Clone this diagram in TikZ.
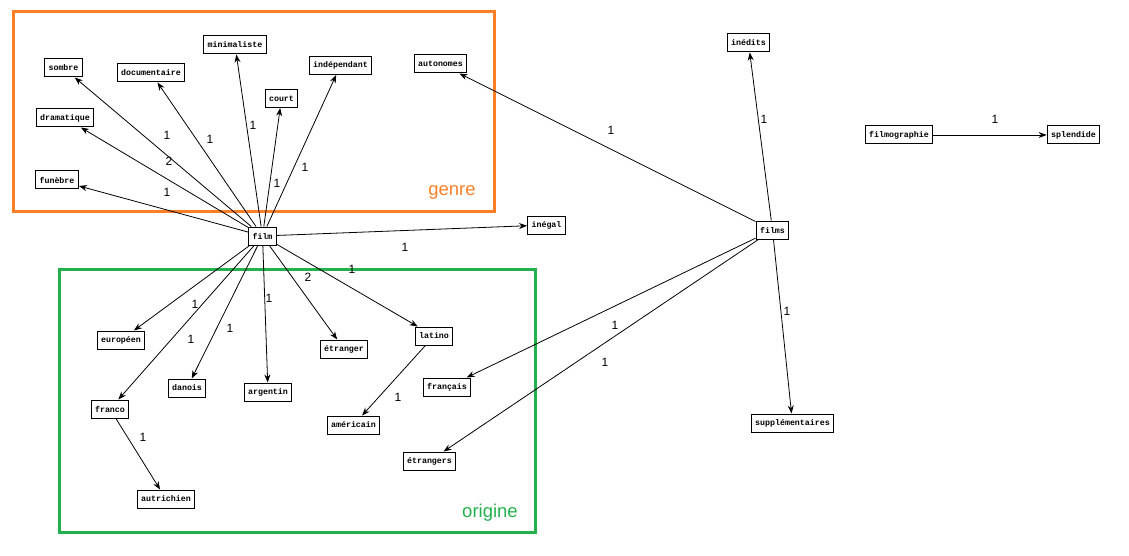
\documentclass[tikz,border=0pt]{standalone}
\usepackage{fontspec}
\setmainfont{Liberation Sans}
\newfontfamily\boxfont{Liberation Mono}
\usetikzlibrary{arrows.meta}
\definecolor{genreorange}{RGB}{255,127,39}
\definecolor{originegreen}{RGB}{34,177,76}
\begin{document}
\begin{tikzpicture}[x=1pt,y=-1pt,
  word/.style={draw=black, line width=1pt, fill=white,
    font=\boxfont\bfseries\fontsize{8.3}{9}\selectfont,
    inner xsep=4pt, inner ysep=0pt, minimum height=18pt},
  link/.style={line width=0.8pt, -{Stealth[length=8pt,width=6pt]}},
  num/.style={font=\fontsize{12}{14}\selectfont, inner sep=0pt},
  group/.style={line width=3pt},
  grouplabel/.style={font=\fontsize{18.5}{20}\selectfont, inner sep=0pt, anchor=base}]
\useasboundingbox (0,0) rectangle (1129,556);

% thematic groups
\draw[group, genreorange] (13,12) rectangle (494,211);
\node[grouplabel, text=genreorange] (genre) at (452,196) {genre};
\draw[group, originegreen] (59,269) rectangle (535,532);
\node[grouplabel, text=originegreen] (origine) at (490,517) {origine};

% words
\node[word] (film) at (262.5,236) {film};
\node[word] (sombre) at (63.5,68) {sombre};
\node[word] (documentaire) at (151,73) {documentaire};
\node[word] (minimaliste) at (235,45) {minimaliste};
\node[word] (court) at (281.5,98.5) {court};
\node[word] (independant) at (340.5,65.5) {indépendant};
\node[word] (dramatique) at (65,118) {dramatique};
\node[word] (funebre) at (57,180) {funèbre};
\node[word] (autonomes) at (440.5,64) {autonomes};
\node[word] (inegal) at (546.5,225) {inégal};
\node[word] (latino) at (434,336) {latino};
\node[word] (etranger) at (344,349) {étranger};
\node[word] (europeen) at (121,340) {européen};
\node[word] (danois) at (187,388) {danois};
\node[word] (argentin) at (268,392) {argentin};
\node[word] (franco) at (110,409) {franco};
\node[word] (autrichien) at (166,499) {autrichien};
\node[word] (americain) at (353.5,425) {américain};
\node[word] (francais) at (447,387) {français};
\node[word] (etrangers) at (429.5,461) {étrangers};
\node[word] (inedits) at (748.5,43) {inédits};
\node[word] (films) at (772.5,230) {films};
\node[word] (supplementaires) at (792.5,423) {supplémentaires};
\node[word] (filmographie) at (899,135) {filmographie};
\node[word] (splendide) at (1073.5,135) {splendide};

% links
\foreach \t in {sombre,documentaire,minimaliste,court,independant,dramatique,funebre,inegal,latino,etranger,argentin,danois,franco,europeen}
  \draw[link] (film) -- (\t);
\draw[link] (latino) -- (americain);
\draw[link] (franco) -- (autrichien);
\foreach \t in {autonomes,inedits,supplementaires,francais,etrangers}
  \draw[link] (films) -- (\t);
\draw[link] (filmographie) -- (splendide);

% link weights
\node[num] (w1) at (167,135) {1};
\node[num] (w2) at (169,161) {2};
\node[num] (w3) at (167,192) {1};
\node[num] (w4) at (210,139) {1};
\node[num] (w5) at (253,125) {1};
\node[num] (w6) at (277,183) {1};
\node[num] (w7) at (305,167) {1};
\node[num] (w8) at (405,247) {1};
\node[num] (w9) at (352,269) {1};
\node[num] (w10) at (308,277) {2};
\node[num] (w11) at (269,298) {1};
\node[num] (w12) at (195,304) {1};
\node[num] (w13) at (230,328) {1};
\node[num] (w14) at (191,339) {1};
\node[num] (w15) at (398,397) {1};
\node[num] (w16) at (143,437) {1};
\node[num] (w17) at (615,325) {1};
\node[num] (w18) at (605,362) {1};
\node[num] (w19) at (611,130) {1};
\node[num] (w20) at (764,119) {1};
\node[num] (w21) at (787,311) {1};
\node[num] (w22) at (995,119) {1};
\end{tikzpicture}
\end{document}
